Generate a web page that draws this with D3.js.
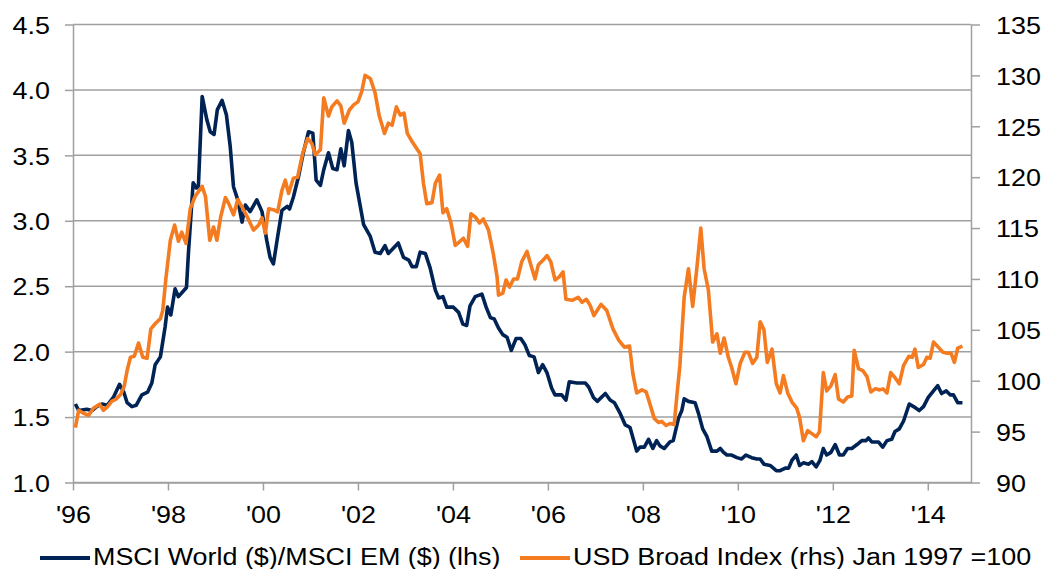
<!doctype html>
<html>
  <head>
    <meta charset="utf-8">
    <title>MSCI World/EM vs USD Broad Index</title>
    <script src="https://cdn.jsdelivr.net/npm/d3@7"></script>
    <style>
    body { margin: 0; background: #fff; }
    text { font-family: "Liberation Sans", Arial, sans-serif; font-size: 23px; fill: #000; }
    .axis path, .axis line { stroke: #a0a0a0; stroke-width: 1.5px; }
    .grid line { stroke: #a0a0a0; stroke-width: 1.5px; }
    </style>
  </head>
  <body>
    <script>
      var w_svg = 1042;
      var h_svg = 569;
      var sx = 1.17;   // text in the source is stretched sideways

      // MSCI World ($)/MSCI EM ($), left axis
      var worldDates = [1996.05,1996.12,1996.29,1996.40,1996.50,1996.61,1996.72,1996.85,1996.98,1997.07,1997.14,1997.24,1997.33,1997.45,1997.57,1997.66,1997.73,1997.84,1997.94,1997.99,
        1998.06,1998.15,1998.22,1998.39,1998.43,1998.53,1998.60,1998.64,1998.72,1998.82,1998.89,1998.97,1999.04,1999.14,1999.23,1999.31,1999.38,1999.47,1999.56,1999.63,
        1999.73,1999.87,1999.98,2000.08,2000.15,2000.22,2000.31,2000.40,2000.51,2000.56,2000.64,2000.75,2000.85,2000.96,2001.05,2001.12,2001.21,2001.28,2001.38,2001.47,
        2001.56,2001.64,2001.71,2001.80,2001.87,2001.96,2002.05,2002.12,2002.26,2002.36,2002.47,2002.57,2002.64,2002.85,2002.96,2003.07,2003.14,2003.23,2003.31,2003.42,
        2003.52,2003.63,2003.70,2003.79,2003.87,2004.01,2004.12,2004.21,2004.29,2004.36,2004.47,2004.61,2004.70,2004.79,2004.87,2004.96,2005.05,2005.14,2005.23,2005.33,
        2005.43,2005.52,2005.61,2005.71,2005.80,2005.89,2005.98,2006.08,2006.15,2006.29,2006.38,2006.45,2006.61,2006.79,2006.86,2006.96,2007.04,2007.21,2007.31,2007.40,
        2007.52,2007.63,2007.73,2007.80,2007.87,2007.94,2008.03,2008.12,2008.21,2008.29,2008.36,2008.45,2008.57,2008.64,2008.75,2008.82,2008.87,2008.96,2009.10,2009.17,
        2009.26,2009.35,2009.45,2009.56,2009.63,2009.70,2009.77,2009.87,2009.98,2010.08,2010.17,2010.29,2010.40,2010.47,2010.55,2010.68,2010.81,2010.89,2011.00,2011.07,
        2011.14,2011.23,2011.30,2011.38,2011.49,2011.56,2011.65,2011.73,2011.80,2011.87,2011.96,2012.05,2012.14,2012.22,2012.31,2012.40,2012.51,2012.61,2012.70,2012.75,
        2012.82,2012.96,2013.05,2013.14,2013.24,2013.31,2013.40,2013.49,2013.61,2013.70,2013.82,2013.91,2014.01,2014.12,2014.21,2014.29,2014.39,2014.47,2014.54,2014.63,2014.73];
      var worldValues = [1.60,1.55,1.56,1.55,1.58,1.60,1.59,1.65,1.75,1.69,1.61,1.58,1.59,1.67,1.69,1.76,1.90,1.96,2.19,2.34,
        2.28,2.48,2.42,2.49,2.75,3.29,3.25,3.26,3.95,3.77,3.68,3.66,3.85,3.92,3.81,3.57,3.26,3.16,2.99,3.12,
        3.07,3.16,3.07,2.85,2.72,2.67,2.88,3.08,3.11,3.09,3.18,3.34,3.52,3.68,3.67,3.31,3.27,3.39,3.52,3.40,
        3.39,3.55,3.42,3.69,3.60,3.29,3.11,2.97,2.88,2.76,2.75,2.81,2.75,2.83,2.72,2.70,2.65,2.65,2.76,2.75,
        2.64,2.47,2.41,2.42,2.34,2.34,2.30,2.21,2.20,2.35,2.42,2.44,2.34,2.26,2.25,2.18,2.13,2.11,2.01,2.10,
        2.10,2.05,1.97,1.96,1.84,1.90,1.84,1.72,1.67,1.67,1.63,1.77,1.76,1.76,1.73,1.65,1.62,1.68,1.63,1.61,
        1.53,1.44,1.42,1.33,1.24,1.27,1.27,1.33,1.26,1.32,1.28,1.26,1.31,1.32,1.49,1.55,1.64,1.62,1.61,1.53,
        1.41,1.35,1.24,1.24,1.26,1.23,1.21,1.21,1.19,1.18,1.21,1.19,1.18,1.18,1.14,1.13,1.09,1.09,1.11,1.11,
        1.17,1.21,1.13,1.15,1.14,1.16,1.12,1.17,1.26,1.21,1.23,1.29,1.21,1.21,1.26,1.26,1.29,1.32,1.32,1.34,
        1.31,1.31,1.27,1.32,1.33,1.39,1.41,1.47,1.60,1.58,1.55,1.58,1.65,1.70,1.74,1.68,1.70,1.67,1.67,1.61,1.61];

      // USD Broad Index (Jan 1997 = 100), right axis
      var usdDates = [1996.05,1996.12,1996.22,1996.33,1996.43,1996.56,1996.64,1996.72,1996.82,1996.91,1997.01,1997.08,1997.14,1997.21,1997.29,1997.38,1997.47,1997.56,1997.64,1997.73,
        1997.84,1997.89,1997.96,1998.05,1998.14,1998.22,1998.29,1998.38,1998.47,1998.57,1998.72,1998.79,1998.88,1998.96,1999.03,1999.11,1999.21,1999.28,1999.38,1999.47,
        1999.58,1999.70,1999.80,1999.91,1999.98,2000.05,2000.12,2000.22,2000.31,2000.40,2000.47,2000.54,2000.64,2000.73,2000.84,2000.94,2001.03,2001.10,2001.21,2001.28,
        2001.38,2001.45,2001.56,2001.64,2001.71,2001.82,2001.91,2002.00,2002.08,2002.15,2002.26,2002.36,2002.45,2002.56,2002.64,2002.72,2002.81,2002.89,2002.97,2003.04,
        2003.14,2003.24,2003.31,2003.38,2003.45,2003.56,2003.63,2003.72,2003.79,2003.87,2003.96,2004.05,2004.15,2004.22,2004.31,2004.38,2004.47,2004.56,2004.64,2004.75,
        2004.85,2004.93,2004.96,2005.05,2005.12,2005.19,2005.28,2005.36,2005.45,2005.56,2005.64,2005.73,2005.80,2005.91,2005.98,2006.06,2006.15,2006.24,2006.32,2006.38,
        2006.51,2006.64,2006.72,2006.81,2006.89,2006.97,2007.12,2007.24,2007.37,2007.49,2007.61,2007.72,2007.79,2007.87,2007.98,2008.07,2008.15,2008.24,2008.33,2008.40,
        2008.49,2008.57,2008.66,2008.72,2008.78,2008.87,2008.96,2009.05,2009.14,2009.22,2009.29,2009.38,2009.47,2009.56,2009.63,2009.71,2009.80,2009.87,2009.96,2010.05,
        2010.15,2010.22,2010.31,2010.40,2010.47,2010.55,2010.62,2010.72,2010.81,2010.89,2010.96,2011.05,2011.14,2011.24,2011.30,2011.38,2011.47,2011.56,2011.65,2011.72,
        2011.80,2011.87,2011.96,2012.05,2012.12,2012.22,2012.31,2012.40,2012.45,2012.54,2012.63,2012.72,2012.80,2012.89,2012.99,2013.06,2013.14,2013.22,2013.31,2013.40,
        2013.49,2013.60,2013.67,2013.73,2013.80,2013.91,2013.98,2014.05,2014.12,2014.22,2014.32,2014.41,2014.49,2014.56,2014.63,2014.73];
      var usdValues = [95.4,97.1,96.8,96.6,97.3,97.7,97.1,97.4,98.0,98.2,98.7,99.5,101.0,102.3,102.4,103.7,102.3,102.2,105.1,105.6,
        106.1,106.9,110.2,113.8,115.3,113.7,114.6,113.5,116.9,118.1,119.1,118.1,113.8,115.1,113.8,116.1,118.0,117.4,116.3,117.8,
        116.9,115.8,114.8,115.3,116.0,114.5,116.9,116.8,116.6,118.7,119.7,118.4,119.9,120.0,122.4,123.8,123.3,122.2,122.7,127.8,
        126.0,126.9,127.5,127.0,125.3,126.6,127.1,127.4,128.4,130.0,129.7,128.3,126.0,124.3,125.3,125.1,126.9,126.1,126.3,124.3,
        123.5,122.8,122.3,119.4,117.4,117.5,119.4,120.2,116.5,116.9,115.5,113.3,113.7,114.0,113.2,116.4,116.1,115.5,115.9,114.8,
        112.5,110.2,108.4,108.6,109.9,109.2,110.0,110.0,111.7,112.7,111.4,110.0,111.4,111.9,112.3,111.7,109.9,110.2,110.7,108.0,
        107.9,108.2,107.7,108.0,107.4,106.4,107.5,106.9,105.1,104.0,103.3,103.4,100.7,98.8,99.1,98.9,97.7,96.3,95.9,96.0,
        95.6,95.8,95.7,98.7,101.5,108.2,111.0,107.3,111.2,115.0,111.0,108.9,103.8,104.6,102.7,104.2,102.3,101.3,99.7,101.7,
        102.8,102.8,101.7,102.3,105.8,105.0,101.8,103.1,99.7,98.8,100.5,98.8,97.9,97.3,96.4,94.1,95.1,94.8,94.5,95.0,
        100.8,99.0,99.5,100.6,98.2,97.9,98.4,98.5,103.0,101.2,101.0,100.4,98.9,99.2,99.1,99.2,98.8,100.8,100.3,99.7,
        101.5,102.4,102.3,103.1,101.3,101.6,102.3,102.2,103.8,103.3,102.8,102.7,102.7,101.8,103.2,103.4];

      var xTicks = [1996,1998,2000,2002,2004,2006,2008,2010,2012,2014];
      var leftTicks = [1.0,1.5,2.0,2.5,3.0,3.5,4.0,4.5];
      var rightTicks = [90,95,100,105,110,115,120,125,130,135];
      var seriesNames = ["MSCI World ($)/MSCI EM ($) (lhs)", "USD Broad Index (rhs) Jan 1997 =100"];
      var seriesColors = ["#002355", "#f47b20"];

      var plotLeft = 73, plotRight = 971, plotTop = 24.5, plotBottom = 482.5;

      var svg = d3.select("body")
                  .append("svg")
                  .attr("width", w_svg)
                  .attr("height", h_svg)

      var x = d3.scaleLinear().domain([1996, 2014.91]).range([plotLeft, plotRight]);
      var yL = d3.scaleLinear().domain([1.0, 4.5]).range([plotBottom, plotTop]);
      var yR = d3.scaleLinear().domain([90, 135]).range([plotBottom, plotTop]);

      // gridlines
      svg.append("g")
         .attr("class", "grid")
         .selectAll("line")
         .data(leftTicks)
         .enter().append("line")
         .attr("x1", plotLeft).attr("x2", plotRight)
         .attr("y1", function(d){ return yL(d); })
         .attr("y2", function(d){ return yL(d); });

      // axes
      var gx = svg.append("g")
                  .attr("class", "axis")
                  .attr("transform", "translate(0," + plotBottom + ")")
                  .call(d3.axisBottom(x).tickValues(xTicks).tickSize(8).tickSizeOuter(0)
                        .tickFormat(function(d){ return "'" + String(d).slice(2); }));
      gx.selectAll("text").attr("y", 41).attr("dy", 0)
        .attr("transform", "scale(" + sx + ",1)");

      var gl = svg.append("g")
                  .attr("class", "axis")
                  .attr("transform", "translate(" + plotLeft + ",0)")
                  .call(d3.axisLeft(yL).tickValues(leftTicks).tickSize(8).tickSizeOuter(0)
                        .tickFormat(d3.format(".1f")));
      gl.selectAll("text").attr("x", -23 / sx).attr("dy", "0.38em")
        .attr("transform", "scale(" + sx + ",1)");

      var gr = svg.append("g")
                  .attr("class", "axis")
                  .attr("transform", "translate(" + plotRight + ",0)")
                  .call(d3.axisRight(yR).tickValues(rightTicks).tickSize(9).tickSizeOuter(0));
      gr.selectAll("text").attr("x", 25 / sx).attr("dy", "0.38em")
        .attr("transform", "scale(" + sx + ",1)");

      svg.selectAll(".axis .domain").attr("stroke", "#a0a0a0");

      // lines
      var lineL = d3.line()
                    .x(function(d){ return x(d[0]); })
                    .y(function(d){ return yL(d[1]); });
      var lineR = d3.line()
                    .x(function(d){ return x(d[0]); })
                    .y(function(d){ return yR(d[1]); });

      svg.append("path")
         .datum(d3.zip(worldDates, worldValues))
         .attr("d", lineL)
         .attr("fill", "none")
         .attr("stroke", seriesColors[0])
         .attr("stroke-width", 3.6)
         .attr("stroke-linejoin", "round");

      svg.append("path")
         .datum(d3.zip(usdDates, usdValues))
         .attr("d", lineR)
         .attr("fill", "none")
         .attr("stroke", seriesColors[1])
         .attr("stroke-width", 3.6)
         .attr("stroke-linejoin", "round");

      // legend
      var legendX = [40, 520];
      var legend = svg.selectAll(".legend")
                      .data(seriesNames)
                      .enter().append("g")
                      .attr("class", "legend")
                      .attr("transform", function(d, i){ return "translate(" + legendX[i] + ",558)"; });
      legend.append("line")
            .attr("x1", 0).attr("x2", 50)
            .attr("stroke", function(d, i){ return seriesColors[i]; })
            .attr("stroke-width", 4);
      legend.append("text")
            .attr("transform", "translate(53,6.5) scale(" + sx + ",1)")
            .text(function(d){ return d; });
    </script>
  </body>
</html>
